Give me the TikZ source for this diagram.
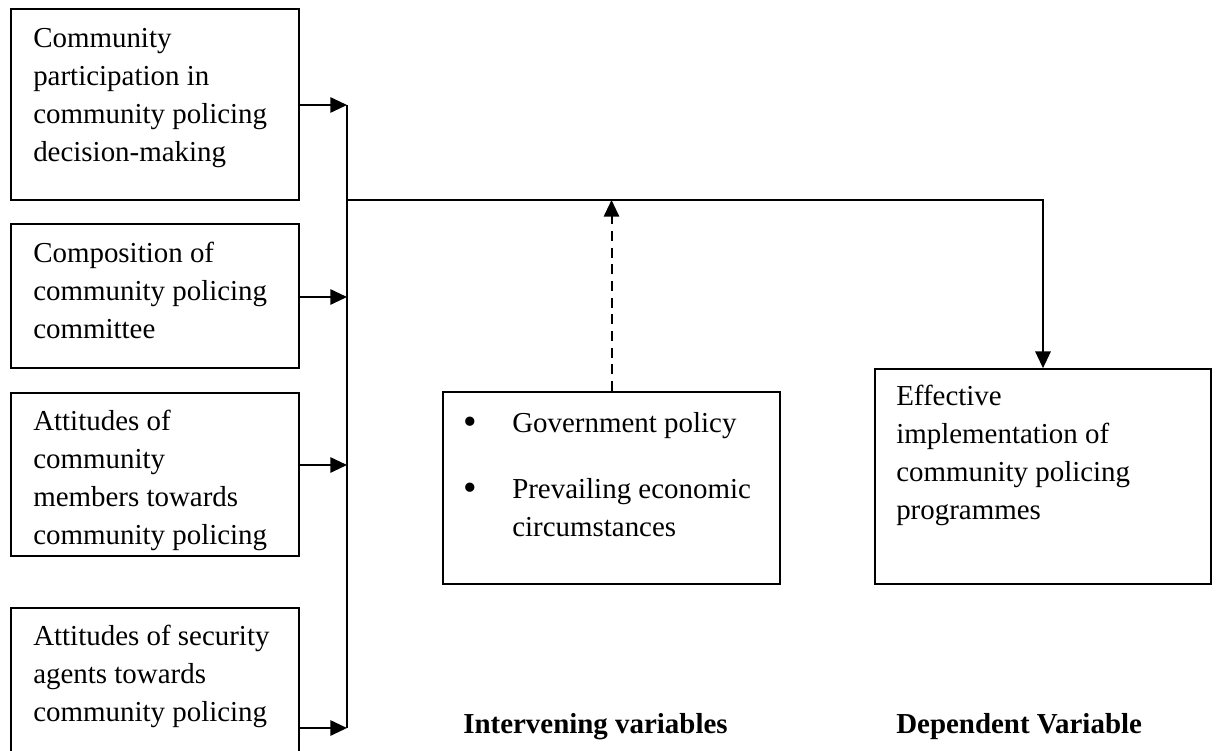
\documentclass[tikz,border=0pt]{standalone}
\usepackage{fontspec}
\setmainfont{Liberation Serif}
\usetikzlibrary{arrows.meta}
\begin{document}
\begin{tikzpicture}[x=0.75pt,y=-0.75pt,
  box/.style={draw, line width=1.3pt, rectangle, inner sep=0pt},
  txt/.style={anchor=north west, inner sep=0pt, align=left, font=\fontsize{21.7pt}{28.5pt}\selectfont},
  lbl/.style={anchor=base west, inner sep=0pt, font=\fontsize{21.7pt}{28.5pt}\selectfont\bfseries},
  bul/.style={anchor=center, inner sep=0pt, font=\fontsize{29pt}{30pt}\selectfont},
  conn/.style={line width=1.4pt},
  arr/.style={line width=1.4pt, -{Triangle[length=12.5pt,width=11.5pt]}},
  darr/.style={line width=1.5pt, dash pattern=on 7.5pt off 5pt, -{Triangle[length=12.5pt,width=11.5pt]}}
]
\useasboundingbox (0,0) rectangle (1219,750);
\fill[white] (0,0) rectangle (1219,750);

% boxes
\node[box, minimum width=216pt, minimum height=143.25pt] (b1) at (155,104.5) {};
\node[box, minimum width=216pt, minimum height=108pt] (b2) at (155,296) {};
\node[box, minimum width=216pt, minimum height=122.25pt] (b3) at (155,474.5) {};
\node[box, minimum width=216pt, minimum height=136.5pt] (b4) at (155,699) {};
\node[box, minimum width=252.75pt, minimum height=144pt] (bi) at (611.5,488) {};
\node[box, minimum width=252pt, minimum height=161.25pt] (bd) at (1043,476.5) {};

% texts
\node[txt] (t1) at (33,20.4) {\strut Community\\participation in\\community policing\\decision-making};
\node[txt] (t2) at (33,235.4) {\strut Composition of\\community policing\\committee};
\node[txt] (t3) at (33,403.4) {\strut Attitudes of\\community\\members towards\\community policing};
\node[txt] (t4) at (33,618.4) {\strut Attitudes of security\\agents towards\\community policing};
\node[txt] (ti) at (512,405.4) {\strut Government policy\\[21pt]Prevailing economic\\circumstances};
\node[bul] (u1) at (470,426) {•};
\node[bul] (u2) at (470,492) {•};
\node[txt] (td) at (896,378.4) {\strut Effective\\implementation of\\community policing\\programmes};
\node[lbl] (li) at (463,733) {Intervening variables};
\node[lbl] (ld) at (896,733) {Dependent Variable};

% junction coordinates
\coordinate (j1) at (347,105);
\coordinate (j2) at (347,297);
\coordinate (j3) at (347,465);
\coordinate (j4) at (347,728);
\coordinate (top) at (347,200);
\coordinate (corner) at (1043,200);

% connectors
\draw[arr] (b1.east |- j1) -- (j1);
\draw[arr] (b2.east |- j2) -- (j2);
\draw[arr] (b3.east |- j3) -- (j3);
\draw[arr] (b4.east |- j4) -- (j4);
\draw[conn] (j1) -- (j4);
\draw[arr] (top) -- (corner) -- (bd.north);
\draw[darr] (bi.north) -- (bi.north |- top);
\end{tikzpicture}
\end{document}
